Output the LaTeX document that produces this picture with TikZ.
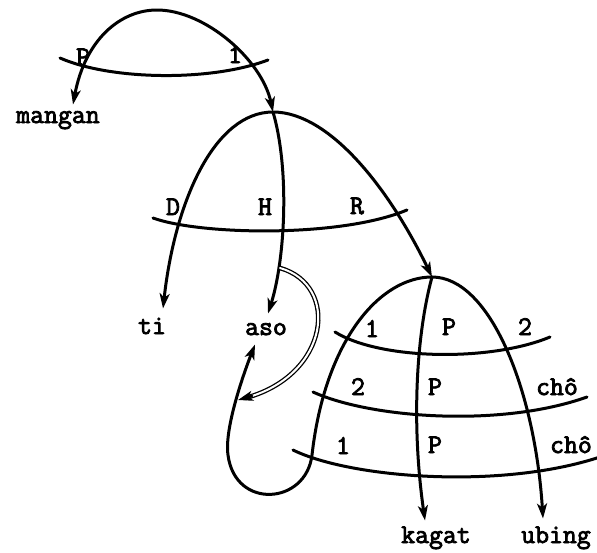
\documentclass[tikz,border=0pt]{standalone}
\usepackage{fontspec}
\newfontfamily\typer{Latin Modern Mono}[FakeBold=3]
\usetikzlibrary{arrows.meta}
\begin{document}
\begin{tikzpicture}[x=1pt,y=-1pt,line width=3pt,line cap=round,
  >={Stealth[length=15pt,width=10pt,inset=4pt]},
  word/.style={font=\fontsize{27}{30}\selectfont\typer\bfseries,anchor=base,
               inner sep=3pt,text height=12pt,text depth=0pt},
  rel/.style={word},
  twin/.style={double,double distance=2pt,line width=1.3pt}]
\useasboundingbox (0,0) rectangle (597,552);
% words
\node[word] (mangan) at (58,123) {mangan};
\node[word] (ti) at (152,334) {ti};
\node[word] (aso) at (266,335) {aso};
\node[word] (kagat) at (436,543) {kagat};
\node[word] (ubing) at (556,543) {ubing};
% tops of the arches
\coordinate (top1) at (157,10);
\coordinate (top2) at (273,112);
\coordinate (top3) at (432,277);
% arch 1
\draw[<->] ([xshift=15pt,yshift=2pt]mangan.north) .. controls (85,40) and (120,10) .. (top1)
  .. controls (205,10) and (262,60) .. (top2);
\draw (60,58) .. controls (110,80) and (210,82) .. (268,60);
\node[rel] (a1-P) at (83,65) {P};
\node[rel] (a1-1) at (235,63) {1};
% arch 2
\draw[<->] ([xshift=11pt,yshift=9pt]ti.north) .. controls (175,200) and (215,112) .. (top2)
  .. controls (330,112) and (390,190) .. (top3);
\draw[->] (top2) .. controls (290,170) and (285,260) .. ([xshift=2pt,yshift=5pt]aso.north);
\draw (153,218) .. controls (200,235) and (340,238) .. (407,210);
\node[rel] (a2-D) at (173,215) {D};
\node[rel] (a2-H) at (265,215) {H};
\node[rel] (a2-R) at (357,214) {R};
% arch 3
\draw[<->] ([xshift=-11pt,yshift=-5pt]aso.south) .. controls (245,370) and (224,428) .. (228,455)
  .. controls (235,510) and (306,505) .. (312,455)
  .. controls (325,340) and (380,277) .. (top3)
  .. controls (490,277) and (535,390) .. ([xshift=-13pt,yshift=8pt]ubing.north);
\draw[->] (top3) .. controls (415,340) and (412,430) .. ([xshift=-11pt,yshift=6pt]kagat.north);
\draw (335,332) .. controls (380,360) and (490,362) .. (550,337);
\draw (313,392) .. controls (370,418) and (500,428) .. (587,397);
\draw (293,450) .. controls (350,478) and (500,490) .. (600,457);
\node[rel] (a3-1) at (372,337) {1};
\node[rel] (a3-P) at (449,335) {P};
\node[rel] (a3-2) at (525,335) {2};
\node[rel] (b3-2) at (358,395) {2};
\node[rel] (b3-P) at (435,395) {P};
\node[rel] (b3-cho) at (557,395) {chô};
\node[rel] (c3-1) at (343,454) {1};
\node[rel] (c3-P) at (435,453) {P};
\node[rel] (c3-cho) at (571,453) {chô};
% double link
\coordinate (twin-from) at (280,268);
\coordinate (twin-near) at (252,396);
\coordinate (twin-to) at (238,400);
\draw[twin,shorten >=8pt] (twin-from) .. controls (340,285) and (330,375) .. (twin-to);
\draw[->,line width=2.6pt] (twin-near) -- (twin-to);
\end{tikzpicture}
\end{document}
